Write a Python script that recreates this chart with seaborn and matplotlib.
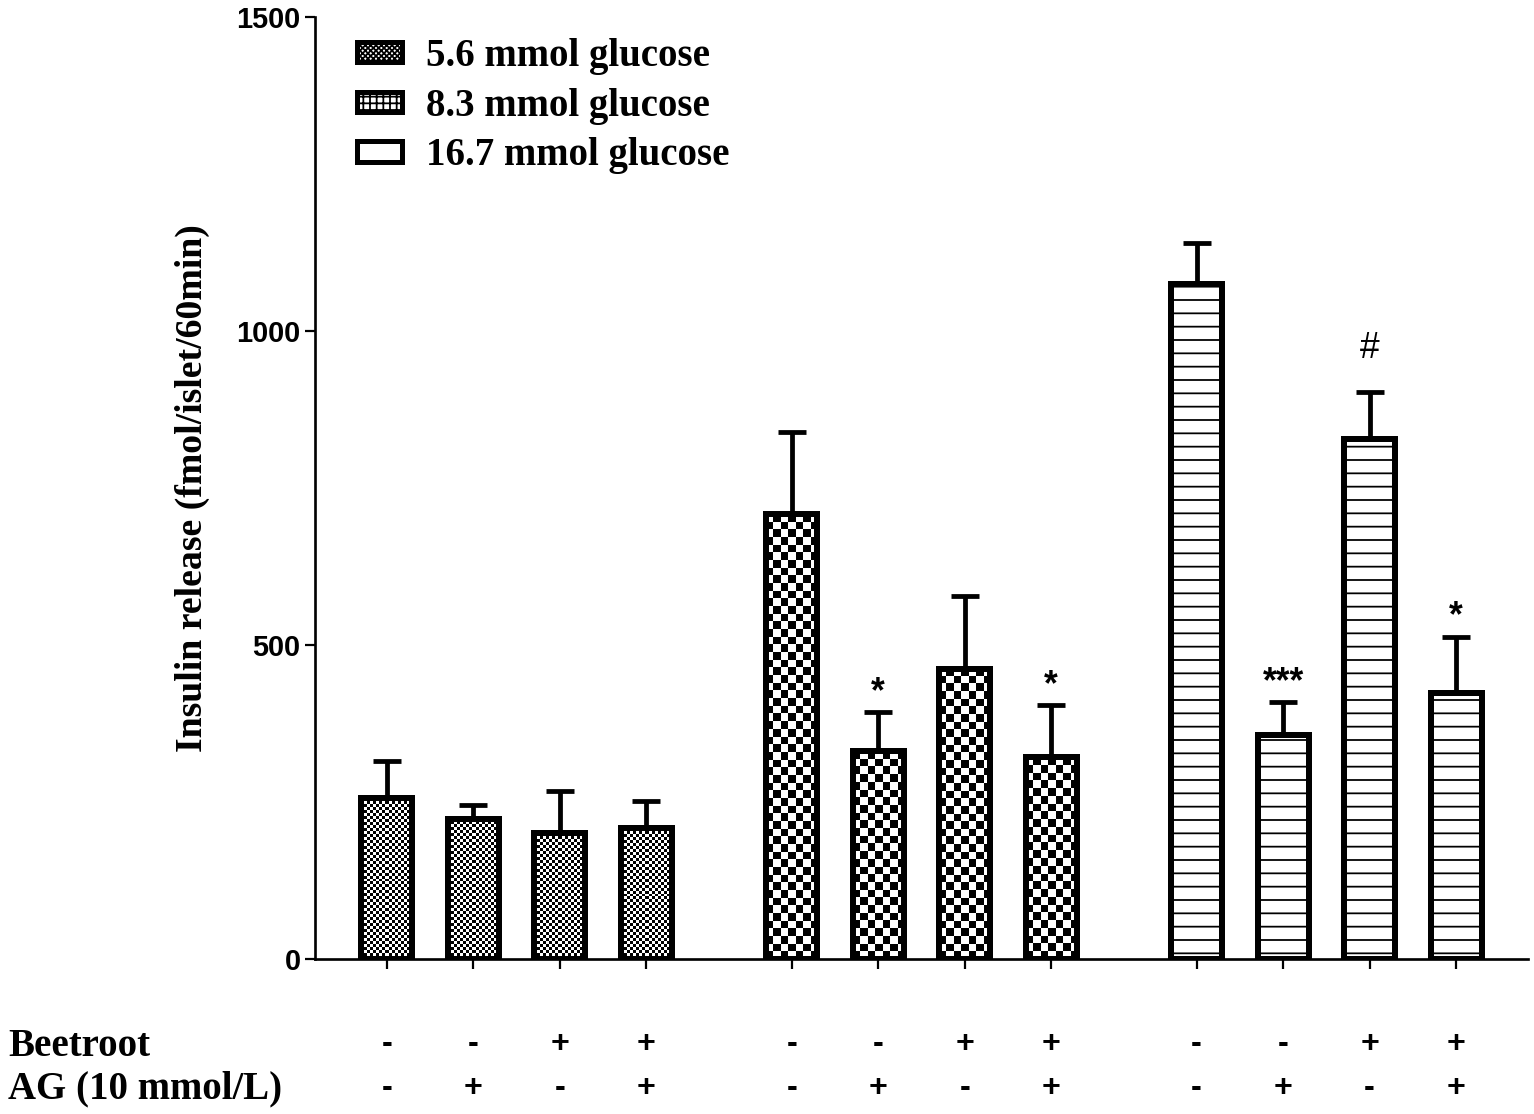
import matplotlib
matplotlib.use("Agg")
import matplotlib.pyplot as plt
import matplotlib.transforms as mtransforms
from matplotlib.patches import Patch
import numpy as np
import pandas as pd
import seaborn as sns

# Data
glucose = ["5.6 mmol glucose", "8.3 mmol glucose", "16.7 mmol glucose"]
beetroot = ["-", "-", "+", "+"]
ag = ["-", "+", "-", "+"]
means_56 = [256, 223, 200, 208]
means_83 = [708, 331, 462, 321]
means_167 = [1075, 356, 828, 423]
sem_56 = [60, 23, 68, 44]
sem_83 = [131, 62, 116, 83]
sem_167 = [65, 53, 75, 90]
marks_56 = ["", "", "", ""]
marks_83 = ["", "*", "", "*"]
marks_167 = ["", "***", "#", "*"]

DPI = 80
SERIF = "Liberation Serif"
SANS = "Liberation Sans"

sns.set_style("ticks")
plt.rcParams["hatch.linewidth"] = 1.6
plt.rcParams["font.family"] = [SANS, "DejaVu Sans"]
for key in ["text.color", "axes.labelcolor", "xtick.color", "ytick.color",
            "axes.edgecolor"]:
    plt.rcParams[key] = "black"


def build_frame():
    rows = []
    means = [means_56, means_83, means_167]
    sems = [sem_56, sem_83, sem_167]
    marks = [marks_56, marks_83, marks_167]
    for g, name in enumerate(glucose):
        for i in range(4):
            rows.append({"glucose": name, "group": g, "idx": i,
                         "pos": g * 4.68 + i, "mean": means[g][i],
                         "sem": sems[g][i], "mark": marks[g][i],
                         "beet": beetroot[i], "ag": ag[i]})
    return pd.DataFrame(rows)


def checker_fill(ax, patch, cell_px):
    """Fill a bar with a checkerboard image clipped to the bar."""
    x0, y0 = patch.get_x(), patch.get_y()
    x1, y1 = x0 + patch.get_width(), y0 + patch.get_height()
    p0 = ax.transData.transform((x0, y0))
    p1 = ax.transData.transform((x1, y1))
    ncol = max(1, int(round(abs(p1[0] - p0[0]) / cell_px)))
    nrow = max(1, int(round(abs(p1[1] - p0[1]) / cell_px)))
    board = np.indices((nrow, ncol)).sum(axis=0) % 2
    im = ax.imshow(board, cmap="gray", extent=(x0, x1, y0, y1), origin="lower",
                   interpolation="nearest", aspect="auto", zorder=0.8)
    im.set_clip_path(patch)


def main():
    df = build_frame()
    fig = plt.figure(figsize=(1534 / DPI, 1114 / DPI), dpi=DPI)
    ax = fig.add_axes([315 / 1534, 1 - 959 / 1114, 1213 / 1534, 942 / 1114])

    sns.barplot(data=df, x="pos", y="mean", native_scale=True, width=0.59,
                color="white", edgecolor="black", linewidth=5.4,
                errorbar=None, ax=ax, zorder=2)

    xlim = (-0.832, 9.36 + 3 + 0.832)
    ax.set_xlim(*xlim)
    ax.set_ylim(0, 1500)

    # error bars (upper only)
    ax.errorbar(df["pos"], df["mean"], yerr=[np.zeros(len(df)), df["sem"]],
                fmt="none", ecolor="black", elinewidth=4.3, capsize=12.5,
                capthick=4.3, zorder=1.5)

    # fill patterns per group
    positions = df["pos"].to_numpy()
    for patch in ax.patches:
        xc = patch.get_x() + patch.get_width() / 2
        k = int(np.argmin(np.abs(positions - xc)))
        g = df["group"].iloc[k]
        if g == 0:
            patch.set_facecolor("none")
            checker_fill(ax, patch, 3.0)
        elif g == 1:
            patch.set_facecolor("none")
            checker_fill(ax, patch, 7.7)
        else:
            patch.set_facecolor("white")
            patch.set_hatch("-")
    ax.set_xlim(*xlim)
    ax.set_ylim(0, 1500)

    # significance marks
    for _, r in df.iterrows():
        if r["mark"]:
            ax.annotate(r["mark"], (r["pos"], r["mean"] + r["sem"]),
                        xytext=(0, 2 if r["mark"] != "#" else 23),
                        textcoords="offset points",
                        ha="center", va="bottom", fontsize=32,
                        fontweight="bold" if r["mark"] != "#" else "normal",
                        fontfamily=SANS)

    # axes styling
    sns.despine(ax=ax)
    for side in ["left", "bottom"]:
        ax.spines[side].set_linewidth(2.4)
    ax.set_yticks([0, 500, 1000, 1500])
    ax.set_yticklabels(["0", "500", "1000", "1500"], fontsize=26,
                       fontweight="bold", fontfamily=SANS)
    ax.set_xticks(df["pos"])
    ax.set_xticklabels([])
    ax.tick_params(axis="both", length=9, width=2.0)
    ax.tick_params(axis="y", pad=4)
    ax.set_xlabel("")
    ax.set_ylabel("Insulin release (fmol/islet/60min)", fontsize=34,
                  fontweight="bold", fontfamily=SERIF, labelpad=24)

    # treatment rows below axis
    trans = mtransforms.blended_transform_factory(ax.transData, fig.transFigure)
    for _, r in df.iterrows():
        ax.text(r["pos"], 1 - 1044 / 1114, r["beet"], transform=trans,
                ha="center", va="center", fontsize=29, fontweight="bold",
                fontfamily=SANS)
        ax.text(r["pos"], 1 - 1088 / 1114, r["ag"], transform=trans,
                ha="center", va="center", fontsize=29, fontweight="bold",
                fontfamily=SANS)
    fig.text(8 / 1534, 1 - 1046 / 1114, "Beetroot", ha="left", va="center",
             fontsize=35, fontweight="bold", fontfamily=SERIF)
    fig.text(8 / 1534, 1 - 1089 / 1114, "AG (10 mmol/L)", ha="left",
             va="center", fontsize=35, fontweight="bold", fontfamily=SERIF)

    # legend
    handles = [
        Patch(facecolor="white", edgecolor="black", linewidth=4.5, hatch="xxxxx"),
        Patch(facecolor="white", edgecolor="black", linewidth=4.5, hatch="++"),
        Patch(facecolor="white", edgecolor="black", linewidth=4.5),
    ]
    ax.legend(handles, glucose, loc="upper left",
              bbox_to_anchor=(0.035, 0.978), frameon=False,
              prop={"family": SERIF, "weight": "bold", "size": 35},
              handlelength=1.15, handleheight=0.42, handletextpad=0.6,
              labelspacing=0.33, borderpad=0, borderaxespad=0)

    fig.savefig("out.png", dpi=DPI)


if __name__ == "__main__":
    main()
